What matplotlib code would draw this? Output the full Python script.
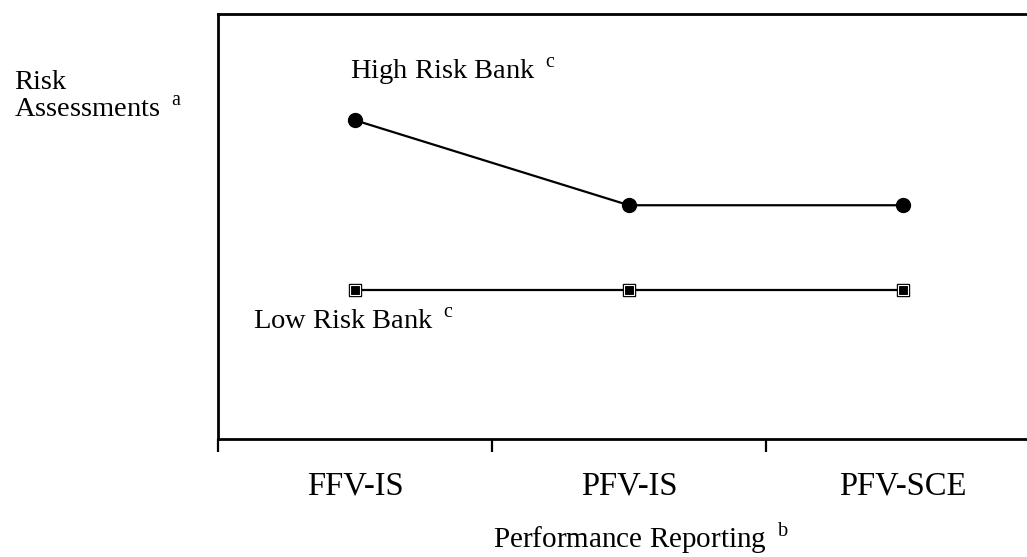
import matplotlib
matplotlib.use("Agg")
import matplotlib.pyplot as plt

plt.rcParams['font.family'] = ['Liberation Serif', 'DejaVu Serif']
plt.rcParams['mathtext.fontset'] = 'custom'
plt.rcParams['mathtext.rm'] = 'Liberation Serif'

categories = ["FFV-IS", "PFV-IS", "PFV-SCE"]
high_risk = [7.5, 5.5, 5.5]
low_risk = [3.5, 3.5, 3.5]

W, H = 1027, 557
fig = plt.figure(figsize=(W / 100, H / 100), dpi=100)

def fx(px):
    return px / W

def fy(py):
    return 1 - py / H

left, right, top, bottom = 218, 1040, 14, 439
ax = fig.add_axes([fx(left), fy(bottom), fx(right - left), fy(top) - fy(bottom)])

xpos = [i + 0.5 for i in range(len(categories))]
ax.plot(xpos, high_risk, color='black', lw=1.6, marker='o', markersize=10,
        markerfacecolor='black', markeredgecolor='black')
ax.plot(xpos, low_risk, color='black', lw=1.6, marker='s', markersize=9,
        markerfacecolor='black', markeredgecolor='black')
ax.plot(xpos, low_risk, lw=0, marker='s', markersize=6.5,
        markerfacecolor='black', markeredgecolor='white', markeredgewidth=0.8)

ax.set_xlim(0, 3)
ax.set_ylim(0, 10)
ax.set_xticks([0, 1, 2, 3])
ax.set_xticklabels([])
ax.set_xticks(xpos, minor=True)
ax.set_xticklabels(categories, minor=True, fontsize=23.5)
ax.tick_params(axis='x', which='major', direction='out', length=9, width=1.6, color='black')
ax.tick_params(axis='x', which='minor', length=0, pad=23)
ax.set_yticks([])
for s in ['left', 'top', 'bottom']:
    ax.spines[s].set_linewidth(2)
    ax.spines[s].set_color('black')
ax.spines['right'].set_visible(False)

fs = 20.5
fig.text(fx(14), fy(89), "Risk", fontsize=fs, ha='left', va='baseline')
fig.text(fx(14), fy(117), r"Assessments $\,^{\mathrm{a}}$", fontsize=fs, ha='left', va='baseline')
fig.text(fx(350), fy(79), r"High Risk Bank $\,^{\mathrm{c}}$", fontsize=fs, ha='left', va='baseline')
fig.text(fx(253), fy(329), r"Low Risk Bank $\,^{\mathrm{c}}$", fontsize=fs, ha='left', va='baseline')
fig.text(fx(493), fy(548), r"Performance Reporting $\,^{\mathrm{b}}$", fontsize=21, ha='left', va='baseline')

fig.savefig("out.png", dpi=100)
